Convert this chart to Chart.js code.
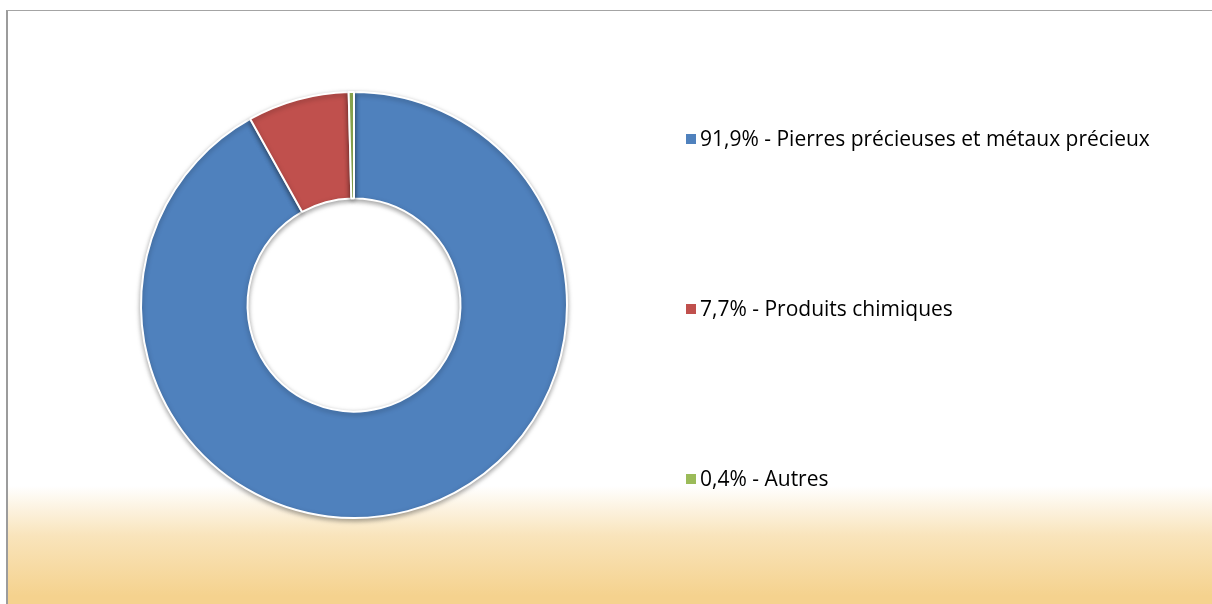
<!DOCTYPE html>
<html>
<head>
<meta charset="utf-8">
<script src="https://cdn.jsdelivr.net/npm/chart.js@4/dist/chart.umd.min.js"></script>
<style>
  html, body { margin: 0; padding: 0; background: #fff; overflow: hidden; }
  body { width: 1212px; height: 604px; position: relative; }
  #frame {
    position: absolute; left: 6px; top: 10px; width: 1204px; height: 594px;
    border-left: 2px solid #9c9c9c; border-top: 1px solid #a4a4a4;
    background: linear-gradient(to bottom, #ffffff 0px, #ffffff 475px, #f9e4bb 525px, #f5d28e 585px, #f5d28e 100%);
  }
  #chart { position: absolute; left: 0; top: 0; }
</style>
</head>
<body>
<div id="frame"></div>
<canvas id="chart" width="1212" height="604"></canvas>
<script>
// data
const categories = ['Pierres précieuses et métaux précieux', 'Produits chimiques', 'Autres'];
const shares = [91.9, 7.7, 0.4];
const colours = ['#4f81bd', '#c0504d', '#9bbb59'];

const fmt = v => v.toFixed(1).replace('.', ',') + '%';

// soft drop shadow under the ring
const ringShadow = {
  id: 'ringShadow',
  beforeDatasetsDraw(chart) {
    const ctx = chart.ctx;
    ctx.save();
    ctx.shadowColor = 'rgba(0,0,0,0.35)';
    ctx.shadowBlur = 5;
    ctx.shadowOffsetY = 2;
  },
  afterDatasetsDraw(chart) {
    chart.ctx.restore();
  }
};

// legend spread down the right side, like the original
const sideLegend = {
  id: 'sideLegend',
  afterDraw(chart) {
    const ctx = chart.ctx;
    const area = chart.chartArea;
    const mid = (area.top + area.bottom) / 2 + 4;
    const step = 170;
    const x = area.right + 10;
    ctx.save();
    ctx.font = '21px "Open Sans", Lato, sans-serif';
    ctx.textBaseline = 'middle';
    categories.forEach((name, i) => {
      const y = mid + (i - 1) * step;
      ctx.fillStyle = colours[i];
      ctx.fillRect(x, y - 5, 10, 10);
      ctx.fillStyle = '#000';
      ctx.fillText(fmt(shares[i]) + ' - ' + name, x + 14, y + 1);
    });
    ctx.restore();
  }
};

new Chart(document.getElementById('chart'), {
  type: 'doughnut',
  data: {
    labels: categories,
    datasets: [{
      data: shares,
      backgroundColor: colours,
      borderColor: '#ffffff',
      borderWidth: 2
    }]
  },
  options: {
    responsive: false,
    animation: false,
    cutout: '50%',
    layout: { padding: { left: 32, right: 536, top: 91, bottom: 85 } },
    plugins: {
      legend: { display: false },
      tooltip: { enabled: false }
    }
  },
  plugins: [ringShadow, sideLegend]
});
</script>
</body>
</html>
